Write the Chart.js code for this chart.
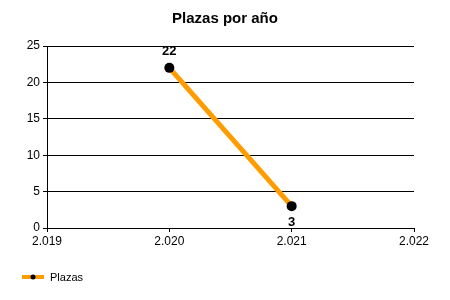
<!DOCTYPE html>
<html>
<head>
<meta charset="utf-8">
<script src="https://cdn.jsdelivr.net/npm/chart.js@4/dist/chart.umd.min.js"></script>
<style>
  html, body { margin: 0; padding: 0; background: #fff; }
  #wrap { width: 450px; height: 300px; }
</style>
</head>
<body>
<div id="wrap"><canvas id="chart"></canvas></div>
<script>
const years = [2020, 2021];
const plazas = [22, 3];
const xTicks = [2019, 2020, 2021, 2022];
const xTickLabels = ["2.019", "2.020", "2.021", "2.022"];
const yTicks = [0, 5, 10, 15, 20, 25];

const lineColor = "#ff9c00";
const fontFamily = "'Liberation Sans', Arial, sans-serif";

// title, data labels and legend drawn on the canvas
const extras = {
  id: "extras",
  afterDatasetsDraw(chart) {
    const ctx = chart.ctx;
    const meta = chart.getDatasetMeta(0);
    ctx.save();
    ctx.fillStyle = "#000";
    ctx.textAlign = "center";
    ctx.textBaseline = "middle";
    ctx.font = "bold 13px " + fontFamily;
    meta.data.forEach((pt, i) => {
      const above = i === 0;
      ctx.fillText(String(plazas[i]), pt.x, above ? pt.y - 16 : pt.y + 16);
    });

    ctx.font = "bold 15px " + fontFamily;
    ctx.fillText("Plazas por año", 225, 19);

    // legend
    ctx.strokeStyle = lineColor;
    ctx.lineWidth = 4;
    ctx.beginPath();
    ctx.moveTo(22, 277);
    ctx.lineTo(44, 277);
    ctx.stroke();
    ctx.beginPath();
    ctx.arc(33, 277, 2.5, 0, Math.PI * 2);
    ctx.fill();
    ctx.textAlign = "left";
    ctx.font = "11px " + fontFamily;
    ctx.fillText("Plazas", 50, 278);
    ctx.restore();
  }
};

new Chart(document.getElementById("chart"), {
  type: "line",
  data: {
    datasets: [{
      label: "Plazas",
      data: years.map((y, i) => ({ x: y, y: plazas[i] })),
      borderColor: lineColor,
      borderWidth: 5,
      pointBackgroundColor: "#000",
      pointBorderColor: "#000",
      pointRadius: 5,
      pointBorderWidth: 0,
      tension: 0
    }]
  },
  options: {
    responsive: true,
    maintainAspectRatio: false,
    animation: false,
    layout: { padding: { left: 0, right: 36, top: 46, bottom: 48 } },
    plugins: {
      legend: { display: false },
      title: { display: false },
      tooltip: { enabled: false }
    },
    scales: {
      x: {
        type: "linear",
        min: xTicks[0],
        max: xTicks[xTicks.length - 1],
        afterBuildTicks: (s) => { s.ticks = xTicks.map((v) => ({ value: v })); },
        afterFit: (s) => { s.height = 24; },
        ticks: {
          color: "#000",
          font: { family: fontFamily, size: 12 },
          padding: 2,
          maxRotation: 0,
          callback: (v) => xTickLabels[xTicks.indexOf(v)]
        },
        grid: { display: true, drawOnChartArea: false, color: "#000", tickLength: 4 },
        border: { color: "#000", width: 1 }
      },
      y: {
        min: 0,
        max: 25,
        afterBuildTicks: (s) => { s.ticks = yTicks.map((v) => ({ value: v })); },
        afterFit: (s) => { s.width = 47; },
        ticks: {
          color: "#000",
          font: { family: fontFamily, size: 12 },
          padding: 3
        },
        grid: { color: "#000", tickLength: 4 },
        border: { color: "#000", width: 1 }
      }
    }
  },
  plugins: [extras]
});
</script>
</body>
</html>
